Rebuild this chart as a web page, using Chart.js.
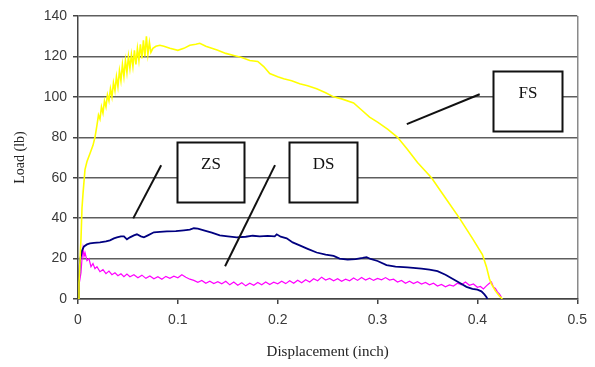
<!DOCTYPE html>
<html>
<head>
<meta charset="utf-8">
<script src="https://cdn.jsdelivr.net/npm/chart.js@4/dist/chart.umd.min.js"></script>
<style>
  body { margin: 0; background: #fff; }
  #chart { display: block; }
</style>
</head>
<body>
<canvas id="chart" width="595" height="367"></canvas>
<script>
// Tick labels
const xTickLabels = ['0', '0.1', '0.2', '0.3', '0.4', '0.5']
const yTickLabels = ['0', '20', '40', '60', '80', '100', '120', '140']

// FS curve (yellow): displacement (inch) / load (lb)
const fsX = [0, 0.001, 0.002, 0.003, 0.004, 0.005, 0.007, 0.009, 0.012, 0.015, 0.017, 0.019, 0.0205, 0.022, 0.0235, 0.025, 0.0265, 0.028, 0.0295, 0.031, 0.0325, 0.034, 0.0355, 0.037, 0.0385, 0.04, 0.0415, 0.043, 0.0445, 0.046, 0.0475, 0.049, 0.0505, 0.052, 0.0535, 0.055, 0.0565, 0.058, 0.0595, 0.061, 0.0625, 0.064, 0.0655, 0.067, 0.0685, 0.07, 0.0715, 0.073, 0.075, 0.078, 0.082, 0.086, 0.092, 0.1, 0.106, 0.112, 0.118, 0.122, 0.128, 0.134, 0.14, 0.148, 0.156, 0.164, 0.172, 0.18, 0.186, 0.192, 0.2, 0.206, 0.214, 0.222, 0.23, 0.239, 0.248, 0.256, 0.264, 0.276, 0.284, 0.292, 0.3, 0.31, 0.32, 0.33, 0.34, 0.354, 0.368, 0.382, 0.395, 0.405, 0.409, 0.412, 0.414, 0.418, 0.422, 0.425]
const fsY = [0, 8, 19, 30, 45, 52, 64, 68, 72, 76, 80, 86, 91, 89, 95, 92, 98, 95, 101, 98, 104, 100, 107, 103, 110, 105, 113, 108, 116, 110, 118, 112, 120, 114, 121, 115, 123, 116, 124, 118, 126, 119, 128, 120, 130, 121, 127, 122, 124, 125, 125.5, 125, 124, 123, 124, 125.5, 126, 126.5, 125, 124, 123, 121.5, 120.5, 119.5, 118, 117.5, 115, 111.5, 110, 109, 108, 106.5, 105.5, 104, 102, 100, 99, 97, 93.5, 90, 87.5, 84, 80, 74, 67.5, 60, 50, 40, 30, 22, 16, 10, 7.5, 4, 1.5, 0]

// ZS curve (navy)
const zsX = [0, 0.001, 0.002, 0.004, 0.006, 0.009, 0.012, 0.016, 0.022, 0.028, 0.032, 0.036, 0.039, 0.043, 0.046, 0.049, 0.052, 0.056, 0.059, 0.063, 0.066, 0.07, 0.076, 0.082, 0.089, 0.098, 0.106, 0.112, 0.116, 0.12, 0.126, 0.134, 0.142, 0.15, 0.159, 0.168, 0.175, 0.182, 0.19, 0.197, 0.199, 0.203, 0.209, 0.215, 0.222, 0.23, 0.239, 0.248, 0.256, 0.262, 0.27, 0.278, 0.285, 0.289, 0.293, 0.3, 0.309, 0.318, 0.33, 0.344, 0.352, 0.36, 0.368, 0.375, 0.382, 0.389, 0.395, 0.4, 0.404, 0.407, 0.409, 0.41]
const zsY = [0, 10, 19, 24, 26, 27, 27.5, 27.8, 28, 28.5, 29, 30, 30.5, 31, 31, 29.5, 30.5, 31.5, 32, 31, 30.5, 31.5, 33, 33.2, 33.5, 33.6, 34, 34.3, 35, 34.8, 34, 32.8, 31.5, 31, 30.5, 30.8, 31.3, 31, 31.2, 31, 32, 30.8, 30, 28, 26.5, 24.8, 23, 22, 21.3, 20, 19.5, 19.7, 20.3, 20.7, 19.8, 18.8, 16.8, 16, 15.6, 15, 14.5, 13.8, 12, 10, 8, 6, 5, 4.6, 3.8, 2.3, 1, 0]

// DS curve (magenta)
const dsX = [0, 0.001, 0.002, 0.003, 0.004, 0.005, 0.006, 0.007, 0.009, 0.011, 0.013, 0.015, 0.017, 0.019, 0.022, 0.025, 0.028, 0.031, 0.034, 0.037, 0.04, 0.043, 0.046, 0.049, 0.052, 0.056, 0.06, 0.064, 0.068, 0.072, 0.076, 0.08, 0.084, 0.088, 0.092, 0.096, 0.1, 0.104, 0.108, 0.112, 0.116, 0.12, 0.124, 0.128, 0.132, 0.136, 0.14, 0.144, 0.148, 0.152, 0.156, 0.16, 0.164, 0.168, 0.172, 0.176, 0.18, 0.184, 0.188, 0.192, 0.196, 0.2, 0.204, 0.208, 0.212, 0.216, 0.22, 0.224, 0.228, 0.232, 0.236, 0.24, 0.244, 0.248, 0.252, 0.256, 0.26, 0.264, 0.268, 0.272, 0.276, 0.28, 0.284, 0.288, 0.292, 0.296, 0.3, 0.304, 0.308, 0.312, 0.316, 0.32, 0.324, 0.328, 0.332, 0.336, 0.34, 0.344, 0.348, 0.352, 0.356, 0.36, 0.364, 0.368, 0.372, 0.376, 0.38, 0.384, 0.388, 0.392, 0.396, 0.4, 0.403, 0.406, 0.409, 0.412, 0.414, 0.416, 0.418, 0.42, 0.422, 0.424]
const dsY = [3, 7, 10, 13, 20, 25, 21, 23, 19, 20, 16, 17.5, 15, 16, 13.5, 14.5, 12.5, 13.8, 12, 13, 11.5, 12.5, 11, 12.3, 11, 12, 10.5, 11.8, 10.2, 11.4, 10, 11, 9.8, 11.2, 10.2, 11.3, 10.5, 12, 10.8, 9.8, 9.2, 8.3, 9.2, 7.8, 8.8, 7.6, 8.6, 7.5, 8.8, 7, 8.4, 6.8, 8, 6.5, 7.8, 6.8, 8.2, 7, 8.4, 7.2, 8.3, 7.5, 8.8, 7.6, 9, 7.8, 9.3, 8, 9.5, 8.4, 10, 9, 10.8, 9.4, 10.2, 9, 10, 8.8, 9.8, 9, 10.4, 9.2, 10.6, 9.4, 10.3, 9.2, 10.2, 9.5, 10.6, 9.4, 9.8, 8.4, 9.2, 7.8, 8.8, 7.6, 8.6, 7.4, 8.2, 7, 7.8, 6.4, 7.2, 6, 7, 6.4, 7.8, 7, 8.4, 6.8, 7.4, 5.8, 6.2, 5, 6.5, 7.8, 8.5, 6, 5.2, 3.5, 2.5, 1]

// Callout boxes and leader lines, in data units
const calloutLabels = ['ZS', 'DS', 'FS']
const calloutBoxes = [
  [0.0993, 77.6, 0.1663, 47.9],
  [0.211, 77.6, 0.279, 47.9],
  [0.416, 112.7, 0.485, 83]
]
const calloutLeaders = [
  [0.0553, 39.9, 0.0833, 66.2],
  [0.1473, 16.2, 0.1973, 66.2],
  [0.3293, 86.5, 0.4023, 101.3]
]

/**
 * Pair x and y arrays into points.
 *
 * @param {number[]} xs - The x values.
 * @param {number[]} ys - The y values.
 * @returns {object[]} Points for Chart.js.
 */
function toPoints (xs, ys) {
  return xs.map((x, i) => ({ x: x, y: ys[i] }))
}

const calloutPlugin = {
  id: 'callouts',
  afterDatasetsDraw (chart) {
    const { ctx, scales: { x, y } } = chart
    ctx.save()
    ctx.strokeStyle = '#111'
    ctx.lineWidth = 2
    // Leader lines
    calloutLeaders.forEach(l => {
      ctx.beginPath()
      ctx.moveTo(x.getPixelForValue(l[0]), y.getPixelForValue(l[1]))
      ctx.lineTo(x.getPixelForValue(l[2]), y.getPixelForValue(l[3]))
      ctx.stroke()
    })
    // Boxes with labels
    calloutBoxes.forEach((b, i) => {
      const x1 = Math.round(x.getPixelForValue(b[0])) + 0.5
      const y1 = Math.round(y.getPixelForValue(b[1])) + 0.5
      const x2 = Math.round(x.getPixelForValue(b[2])) + 0.5
      const y2 = Math.round(y.getPixelForValue(b[3])) + 0.5
      ctx.fillStyle = '#fff'
      ctx.fillRect(x1, y1, x2 - x1, y2 - y1)
      ctx.strokeRect(x1, y1, x2 - x1, y2 - y1)
      ctx.fillStyle = '#111'
      ctx.font = '17px "Liberation Serif", "Times New Roman", serif'
      ctx.textAlign = 'center'
      ctx.textBaseline = 'middle'
      ctx.fillText(calloutLabels[i], (x1 + x2) / 2, y1 + 22)
    })
    ctx.restore()
  }
}

const ctx = document.getElementById('chart').getContext('2d')

new Chart(ctx, {
  type: 'line',
  data: {
    datasets: [
      {
        label: 'FS',
        data: toPoints(fsX, fsY),
        borderColor: '#ffff00',
        borderWidth: 1.6
      },
      {
        label: 'ZS',
        data: toPoints(zsX, zsY),
        borderColor: '#000080',
        borderWidth: 1.8
      },
      {
        label: 'DS',
        data: toPoints(dsX, dsY),
        borderColor: '#ff00ff',
        borderWidth: 1.2
      }
    ]
  },
  options: {
    responsive: false,
    animation: false,
    devicePixelRatio: 1,
    parsing: false,
    elements: {
      point: { radius: 0 },
      line: { tension: 0 }
    },
    layout: {
      padding: { top: 16, right: 17, bottom: 0, left: 0 }
    },
    scales: {
      x: {
        type: 'linear',
        min: 0,
        max: 0.5,
        afterFit: scale => { scale.height = 68 },
        afterBuildTicks: scale => {
          scale.ticks = xTickLabels.map(t => ({ value: Number(t) }))
        },
        ticks: {
          padding: 8,
          color: '#3a3a3a',
          font: { family: '"Liberation Sans", Arial, sans-serif', size: 14 },
          callback: (value, index) => xTickLabels[index]
        },
        grid: {
          color: c => c.index === xTickLabels.length - 1 ? '#8a8a8a' : 'rgba(0,0,0,0)',
          lineWidth: 1.5,
          tickColor: '#444',
          tickLength: 5
        },
        border: { display: true, color: '#444', width: 1.5 },
        title: {
          display: true,
          text: 'Displacement (inch)',
          color: '#222',
          font: { family: '"Liberation Serif", "Times New Roman", serif', size: 15 },
          padding: { top: 0, bottom: 6 }
        }
      },
      y: {
        min: 0,
        max: 140,
        afterFit: scale => { scale.width = 78 },
        afterBuildTicks: scale => {
          scale.ticks = yTickLabels.map(t => ({ value: Number(t) }))
        },
        ticks: {
          padding: 6,
          color: '#3a3a3a',
          font: { family: '"Liberation Sans", Arial, sans-serif', size: 14 },
          callback: (value, index) => yTickLabels[index]
        },
        grid: {
          color: '#5e5e5e',
          lineWidth: 1.5,
          tickColor: '#444',
          tickLength: 5
        },
        border: { display: true, color: '#444', width: 1.5 },
        title: {
          display: true,
          text: 'Load (lb)',
          color: '#222',
          font: { family: '"Liberation Serif", "Times New Roman", serif', size: 14 },
          padding: { top: 12, bottom: 0 }
        }
      }
    },
    plugins: {
      legend: { display: false },
      tooltip: { enabled: false }
    }
  },
  plugins: [calloutPlugin]
})
</script>
</body>
</html>
